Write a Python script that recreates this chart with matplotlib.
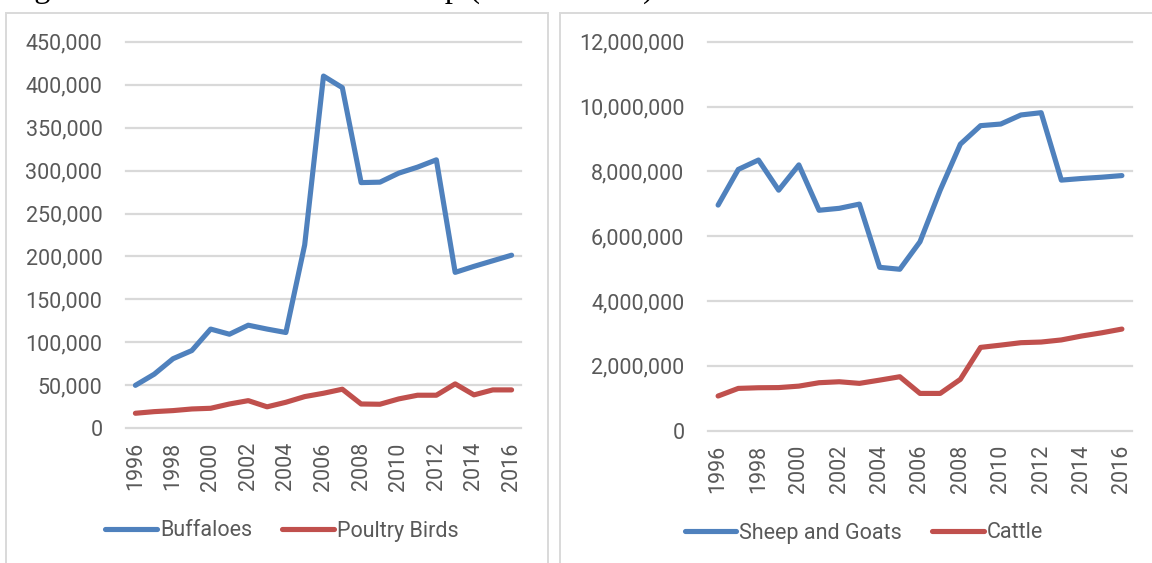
import matplotlib.pyplot as plt
from matplotlib.patches import Rectangle
from matplotlib.ticker import FuncFormatter

years = list(range(1996, 2017))

buffaloes = [50000, 63000, 81000, 90500, 115500, 109500, 120000, 115500, 111500, 213500,
             410000, 396500, 286000, 286500, 297000, 304000, 312500, 181500, 188500, 195000, 201500]
poultry_birds = [17500, 19400, 20600, 22500, 23300, 28300, 32200, 25000, 30300, 36900,
                 40800, 45500, 28300, 28000, 34200, 38500, 38500, 51700, 38900, 44700, 44700]

sheep_goats = [6960000, 8060000, 8350000, 7420000, 8200000, 6800000, 6860000, 6990000, 5040000, 4980000,
               5830000, 7420000, 8840000, 9410000, 9460000, 9740000, 9810000, 7730000, 7780000, 7820000, 7870000]
cattle = [1070000, 1305000, 1325000, 1330000, 1375000, 1480000, 1510000, 1460000, 1560000, 1665000,
          1150000, 1150000, 1585000, 2570000, 2640000, 2715000, 2735000, 2800000, 2920000, 3020000, 3135000]

caption = "Figure 3: Livestock in Each Group (1996 – 2016)"

BLUE = "#4f81bd"
RED = "#c0504d"
GRID = "#d9d9d9"
TEXT = "#595959"
FONT = "Roboto"
W, H = 1152, 563

fig = plt.figure(figsize=(W / 100, H / 100), dpi=100)

# chart frames (run off the bottom of the page)
fig.patches.append(Rectangle((6 / W, -0.05), 542 / W, 1.05 - 12.5 / H, transform=fig.transFigure,
                             fill=False, edgecolor=GRID, lw=1.4))
fig.patches.append(Rectangle((559.5 / W, -0.05), 0.6, 1.05 - 12.5 / H, transform=fig.transFigure,
                             fill=False, edgecolor=GRID, lw=1.4))

# caption sitting mostly above the page edge
fig.text(7 / W, 1 + 3 / H, caption, family="Liberation Serif", fontsize=23.5, va="baseline", color="black")


def draw_panel(rect, series, ymax, step, legend_x, legend_y):
    ax = fig.add_axes(rect)
    x = range(len(years))
    handles = []
    for values, color, name in series:
        h, = ax.plot(x, values, color=color, lw=3.7, solid_capstyle="round",
                     solid_joinstyle="round", label=name, zorder=3)
        handles.append(h)
    ax.set_xlim(-0.5, len(years) - 0.5)
    ax.set_ylim(0, ymax)
    ax.set_yticks(range(0, ymax + 1, step))
    ax.yaxis.set_major_formatter(FuncFormatter(lambda v, p: f"{v:,.0f}"))
    ax.set_xticks(list(x)[::2])
    ax.set_xticklabels([str(y) for y in years[::2]], rotation=90)
    for s in ax.spines.values():
        s.set_visible(False)
    ax.yaxis.grid(True, color=GRID, lw=1.6)
    for gl in ax.get_ygridlines():
        gl.set_clip_on(False)
    ax.set_axisbelow(True)
    ax.tick_params(axis="y", length=0, pad=17, labelsize=15.5, labelcolor=TEXT)
    ax.tick_params(axis="x", length=0, pad=10, labelsize=15.5, labelcolor=TEXT)
    for lbl in ax.get_xticklabels() + ax.get_yticklabels():
        lbl.set_family(FONT)
    ax.legend(handles=handles, ncol=2, loc="center", bbox_to_anchor=(legend_x / W, 1 - legend_y / H),
              bbox_transform=fig.transFigure, frameon=False, handlelength=2.4, handletextpad=0.15,
              columnspacing=1.4, prop={"family": FONT, "size": 15.5}, labelcolor=TEXT)
    return ax


draw_panel([126 / W, 1 - 428.3 / H, 395 / W, 386.6 / H],
           [(buffaloes, BLUE, "Buffaloes"), (poultry_birds, RED, "Poultry Birds")],
           450000, 50000, 282, 531)
draw_panel([708 / W, 1 - 430.7 / H, 424 / W, 389 / H],
           [(sheep_goats, BLUE, "Sheep and Goats"), (cattle, RED, "Cattle")],
           12000000, 2000000, 864, 533)

fig.savefig("out.png", dpi=100)
